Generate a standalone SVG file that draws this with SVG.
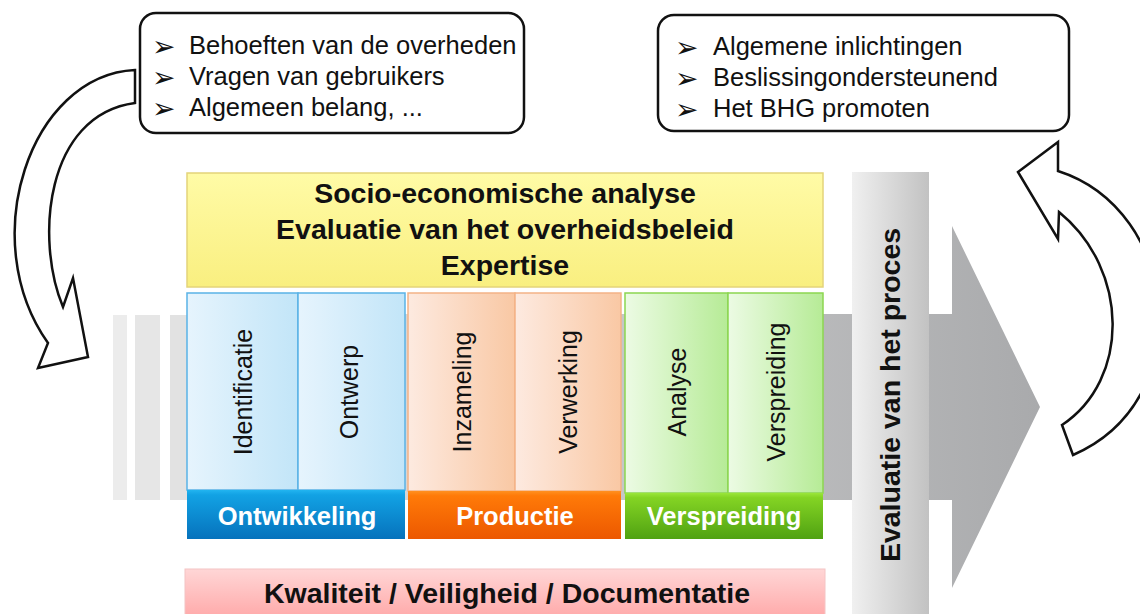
<svg xmlns="http://www.w3.org/2000/svg" width="1140" height="614" viewBox="0 0 1140 614">
<style>
.t{font-family:"Liberation Sans",Arial,sans-serif;fill:#111}
.b{font-weight:bold}
.bul{font-family:"DejaVu Sans",sans-serif;font-size:28px;fill:#111}
.box{fill:#fff;stroke:#111;stroke-width:2.5}
.curve{fill:#fff;stroke:#111;stroke-width:2.5;stroke-linejoin:miter}
.lbl{font-family:"Liberation Sans",Arial,sans-serif;font-size:25.5px;font-weight:bold;fill:#fff;text-anchor:middle}
.vt{font-family:"Liberation Sans",Arial,sans-serif;font-size:25px;fill:#111;text-anchor:middle}
</style>
<defs>
<linearGradient id="gArrow" x1="0" y1="0" x2="1" y2="0">
<stop offset="0" stop-color="#e4e4e4"/><stop offset="1" stop-color="#a9aaac"/>
</linearGradient>
<linearGradient id="gEval" x1="0" y1="0" x2="1" y2="0">
<stop offset="0" stop-color="#f0f0f0"/><stop offset="1" stop-color="#c2c2c2"/>
</linearGradient>
<linearGradient id="gYellow" x1="0" y1="0" x2="0" y2="1">
<stop offset="0" stop-color="#fffba6"/><stop offset="1" stop-color="#f9ef80"/>
</linearGradient>
<linearGradient id="gPink" x1="0" y1="0" x2="0" y2="1">
<stop offset="0" stop-color="#ffd6d6"/><stop offset="1" stop-color="#ffa8a8"/>
</linearGradient>
<linearGradient id="gBlueC" x1="0" y1="0" x2="1" y2="0">
<stop offset="0" stop-color="#e6f4fd"/><stop offset="1" stop-color="#c2e5f8"/>
</linearGradient>
<linearGradient id="gOrC" x1="0" y1="0" x2="1" y2="0">
<stop offset="0" stop-color="#fdeae0"/><stop offset="1" stop-color="#f9c8a4"/>
</linearGradient>
<linearGradient id="gGrC" x1="0" y1="0" x2="1" y2="0">
<stop offset="0" stop-color="#ecfbe4"/><stop offset="1" stop-color="#b6eb96"/>
</linearGradient>
<linearGradient id="gBlueB" x1="0" y1="0" x2="0" y2="1">
<stop offset="0" stop-color="#22b4f0"/><stop offset="0.1" stop-color="#12a2e4"/><stop offset="1" stop-color="#0672bc"/>
</linearGradient>
<linearGradient id="gOrB" x1="0" y1="0" x2="0" y2="1">
<stop offset="0" stop-color="#ff9020"/><stop offset="0.1" stop-color="#ff7a08"/><stop offset="1" stop-color="#ec5800"/>
</linearGradient>
<linearGradient id="gGrB" x1="0" y1="0" x2="0" y2="1">
<stop offset="0" stop-color="#9ae63a"/><stop offset="0.1" stop-color="#84d424"/><stop offset="1" stop-color="#50a212"/>
</linearGradient>
</defs>

<g id="process-arrow">
<rect x="113" y="315" width="14" height="185" fill="#ececec"/>
<rect x="135" y="315" width="25" height="185" fill="#e6e6e6"/>
<rect x="170" y="315" width="17" height="185" fill="#e2e2e2"/>
<path d="M187,314 L952,314 L952,226 L1040,407 L952,588 L952,500 L187,500 Z" fill="url(#gArrow)"/>
</g>

<g id="analyse-box">
<rect x="187" y="173" width="636" height="114" fill="url(#gYellow)" stroke="#e4d47a" stroke-width="1.5"/>
<text class="t b" x="505" y="203" font-size="28.5" text-anchor="middle">Socio-economische analyse</text>
<text class="t b" x="505" y="239" font-size="28.5" text-anchor="middle">Evaluatie van het overheidsbeleid</text>
<text class="t b" x="505" y="275" font-size="28.5" text-anchor="middle">Expertise</text>
</g>

<g id="ontwikkeling">
<rect x="187" y="293" width="111" height="197" fill="url(#gBlueC)" stroke="#5ab2e6" stroke-width="1.5"/>
<rect x="298" y="293" width="107" height="197" fill="url(#gBlueC)" stroke="#5ab2e6" stroke-width="1.5"/>
<text class="vt" transform="translate(251.5,392) rotate(-90)">Identificatie</text>
<text class="vt" transform="translate(358,392) rotate(-90)">Ontwerp</text>
<rect x="187" y="490" width="218" height="49" fill="url(#gBlueB)"/>
<text class="lbl" x="297" y="525">Ontwikkeling</text>
</g>

<g id="productie">
<rect x="408" y="293" width="107" height="198" fill="url(#gOrC)" stroke="#f4b386" stroke-width="1.5"/>
<rect x="515" y="293" width="106" height="198" fill="url(#gOrC)" stroke="#f4b386" stroke-width="1.5"/>
<text class="vt" transform="translate(471,392) rotate(-90)">Inzameling</text>
<text class="vt" transform="translate(577,392) rotate(-90)">Verwerking</text>
<rect x="408" y="491" width="213" height="48" fill="url(#gOrB)"/>
<text class="lbl" x="515" y="525">Productie</text>
</g>

<g id="verspreiding">
<rect x="625" y="293" width="103" height="200" fill="url(#gGrC)" stroke="#8cd650" stroke-width="1.5"/>
<rect x="728" y="293" width="95" height="200" fill="url(#gGrC)" stroke="#8cd650" stroke-width="1.5"/>
<text class="vt" transform="translate(686,392) rotate(-90)">Analyse</text>
<text class="vt" transform="translate(785,392) rotate(-90)">Verspreiding</text>
<rect x="625" y="493" width="198" height="46" fill="url(#gGrB)"/>
<text class="lbl" x="724" y="525">Verspreiding</text>
</g>

<g id="evaluatie">
<rect x="852" y="172" width="77" height="450" fill="url(#gEval)"/>
<text class="t b" font-size="28.5" text-anchor="middle" transform="translate(900,395) rotate(-90)">Evaluatie van het proces</text>
</g>

<g id="kwaliteit">
<rect x="185" y="569" width="640" height="50" fill="url(#gPink)" stroke="#f4c4c4" stroke-width="1"/>
<text class="t b" x="507" y="603" font-size="28.5" text-anchor="middle">Kwaliteit / Veiligheid / Documentatie</text>
</g>

<g id="input-box">
<rect class="box" x="140" y="13" width="384" height="120" rx="16"/>
<text class="bul" x="152" y="56">➢</text>
<text class="bul" x="152" y="87">➢</text>
<text class="bul" x="152" y="118">➢</text>
<text class="t" x="189" y="54" font-size="25.5">Behoeften van de overheden</text>
<text class="t" x="189" y="85" font-size="25.5">Vragen van gebruikers</text>
<text class="t" x="189" y="116" font-size="25.5">Algemeen belang, ...</text>
</g>

<g id="output-box">
<rect class="box" x="658" y="15" width="411" height="116" rx="16"/>
<text class="bul" x="675" y="57">➢</text>
<text class="bul" x="675" y="88">➢</text>
<text class="bul" x="675" y="119">➢</text>
<text class="t" x="713" y="55" font-size="25.5">Algemene inlichtingen</text>
<text class="t" x="713" y="86" font-size="25.5">Beslissingondersteunend</text>
<text class="t" x="713" y="117" font-size="25.5">Het BHG promoten</text>
</g>

<g id="connectors">
<path class="curve" d="M135,70 C30,75 -25,240 48,343 L38,368 L88,357 L73,278 L63,307 C35,240 45,115 135,103 Z"/>
<path class="curve" d="M1018,172 L1058,142 L1058,171 C1180,210 1200,400 1073,455 L1062,425 C1130,380 1130,270 1059,212 L1058,239 Z"/>
</g>
</svg>
